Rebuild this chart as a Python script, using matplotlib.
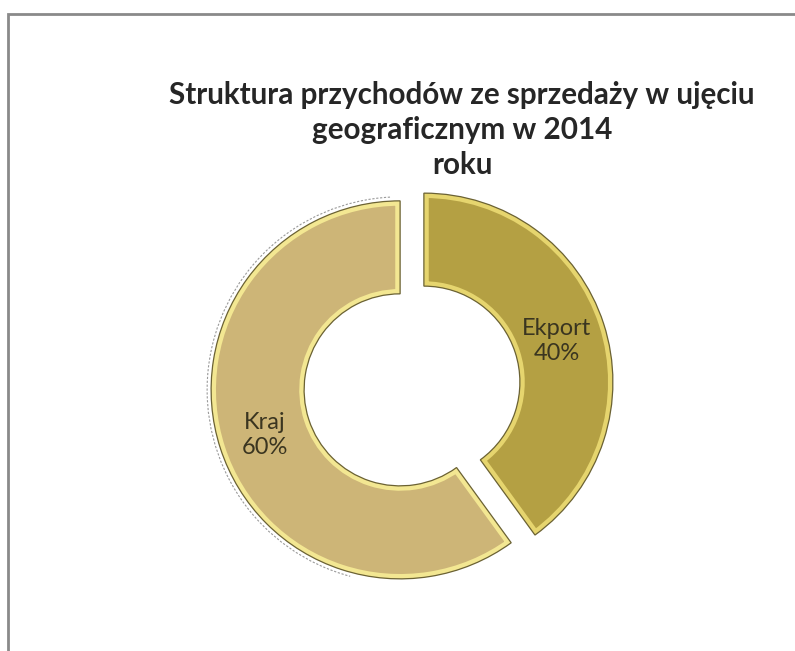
import matplotlib.pyplot as plt
from matplotlib.patches import Wedge, Arc

# data
labels = ['Kraj', 'Ekport']
values = [60, 40]
colors = ['#cdb577', '#b4a043']
bevel = ['#f3e792', '#e6d56e']
title = 'Struktura przychodów ze sprzedaży w ujęciu\ngeograficznym w 2014\nroku'

plt.rcParams['font.family'] = ['Lato', 'DejaVu Sans']

W, H = 795, 651
fig = plt.figure(figsize=(W / 100, H / 100), dpi=100)
fig.patch.set_facecolor('white')
ax = fig.add_axes([0, 0, 1, 1])

# pixel-like coordinates (y measured from the bottom)
cx, cy = 412, H - 386
R, ring = 189, 93
expl = 12.5  # explode is in data units here

wedges, _ = ax.pie(values, colors=colors, startangle=90, counterclock=True,
                   center=(cx, cy), radius=R, explode=[expl, expl],
                   wedgeprops=dict(width=ring, linewidth=0))
# inner light bevel band, clipped to a copy of each wedge
for w, bc in zip(wedges, bevel):
    clip = Wedge(w.center, w.r, w.theta1, w.theta2, width=w.width,
                 transform=ax.transData)
    w.set_edgecolor(bc)
    w.set_linewidth(7)
    w.set_clip_on(True)
    w.set_clip_path(clip)
# thin dark outline
ax.pie(values, colors=['none', 'none'], startangle=90,
       center=(cx, cy), radius=R, explode=[expl, expl],
       wedgeprops=dict(width=ring, linewidth=0.9, edgecolor='#6b6234',
                       fill=False))

# faint scanned shadow line along the outer edge of "Kraj"
k = wedges[0]
ax.add_patch(Arc(k.center, 2 * (R + 4), 2 * (R + 4), theta1=k.theta1 + 3,
                 theta2=k.theta1 + 165, color='#9a9a9a', lw=0.8,
                 linestyle=(0, (2, 1.5))))

ax.set_xlim(0, W)
ax.set_ylim(0, H)
ax.set_aspect('equal')
ax.axis('off')

# slice labels
ax.text(265, H - 435, f'{labels[0]}\n{values[0]}%', ha='center', va='center',
        fontsize=17, color='#3a3520', linespacing=1.2)
ax.text(557, H - 341, f'{labels[1]}\n{values[1]}%', ha='center', va='center',
        fontsize=17, color='#3a3520', linespacing=1.2)

# title
ax.text(462, H - 130, title, ha='center', va='center', fontsize=21.3,
        fontweight='bold', color='#262626', linespacing=1.3)

# frame of the scanned chart area
ax.plot([8, 8, W], [0, H - 14, H - 14], color='#8a8a8a', lw=2,
        solid_joinstyle='miter')

fig.savefig('out.png', dpi=100, facecolor='white')
